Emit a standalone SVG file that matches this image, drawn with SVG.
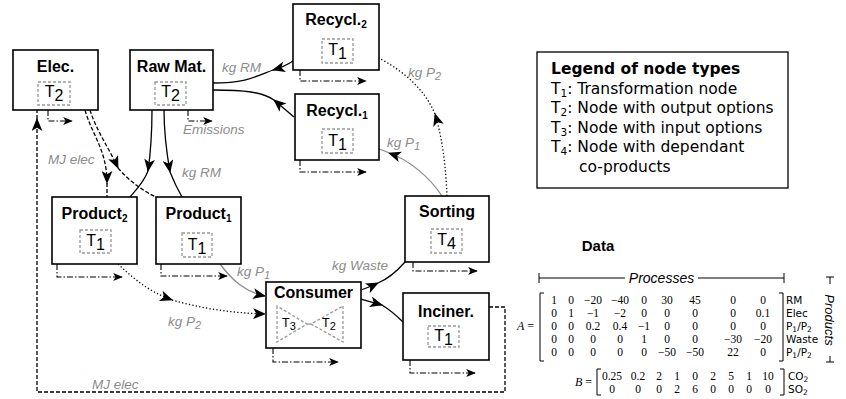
<svg xmlns="http://www.w3.org/2000/svg" width="846" height="399" viewBox="0 0 846 399">
<defs>
<style>
.box{fill:#fff;stroke:#000;stroke-width:1.6}
.title{font-family:"Liberation Sans",Arial,sans-serif;font-weight:bold;font-size:16px;text-anchor:middle;fill:#000}
.tbox{fill:none;stroke:#999;stroke-width:1.3;stroke-dasharray:3 2}
.tl{font-family:"Liberation Sans",Arial,sans-serif;font-size:16px;text-anchor:middle;fill:#000}
.tls{font-family:"Liberation Sans",Arial,sans-serif;font-size:12.5px;text-anchor:middle;fill:#000}
.lbl{font-family:"Liberation Sans",Arial,sans-serif;font-style:italic;font-size:13.5px;fill:#8c8c8c}
.e{fill:none;stroke:#000;stroke-width:1.3}
.g{fill:none;stroke:#8c8c8c;stroke-width:1.3}
.dash{stroke-dasharray:4 2}
.dot{stroke-dasharray:1.3 2.2}
.dd{fill:none;stroke:#000;stroke-width:1.1;stroke-dasharray:6 2 1.5 2}
.leg{font-family:"DejaVu Sans",Verdana,sans-serif;font-size:15.5px;fill:#000}
.mx{font-family:"Liberation Serif","DejaVu Serif",serif;font-size:11.5px;text-anchor:middle;fill:#000}
.ml{font-family:"DejaVu Sans",Verdana,sans-serif;font-size:10.5px;fill:#000}
.br{fill:none;stroke:#000;stroke-width:1}
</style>
<marker id="ah" viewBox="0 0 12 10" refX="11" refY="5" markerWidth="13" markerHeight="11" markerUnits="userSpaceOnUse" orient="auto"><path d="M0,0 L12,5 L0,10 L3,5 z" fill="#000"/></marker>
<marker id="ahs" viewBox="0 0 12 10" refX="11" refY="5" markerWidth="11" markerHeight="8" markerUnits="userSpaceOnUse" orient="auto"><path d="M0,0 L12,5 L0,10 L3,5 z" fill="#000"/></marker>
</defs>
<rect width="846" height="399" fill="#fff"/>

<g id="connectors">
<path class="e" d="M293,61 Q284,67 273,70" marker-end="url(#ah)"/>
<path class="e" d="M273,70 C255,77 245,83 213,83"/>
<path class="e" d="M294,117 L274,100" marker-end="url(#ah)"/>
<path class="e" d="M274,100 C262,92 245,90 213,90"/>
<path class="e" d="M152,110 C152,135 151,150 148,171" marker-end="url(#ah)"/>
<path class="e" d="M148,171 C144,182 136,190 130,197"/>
<path class="e" d="M164,110 C164,135 167,155 170,172" marker-end="url(#ah)"/>
<path class="e" d="M170,172 C174,182 178,190 182,197"/>
<path class="e dash" d="M85,110 C92,135 107,150 107,183" marker-end="url(#ah)"/>
<path class="e dash" d="M107,183 L107,197"/>
<path class="e dash" d="M90,110 C96,130 110,150 118,168" marker-end="url(#ah)"/>
<path class="e dash" d="M118,168 C130,182 145,192 156,197" stroke-width="1"/>
<path class="g" d="M220,264 C232,280 245,292 265,296" marker-end="url(#ah)"/>
<path class="e dot" d="M118,264 C135,280 150,292 172,300" marker-end="url(#ah)"/>
<path class="e dot" d="M172,300 C200,308 230,313 265,314" marker-end="url(#ah)"/>
<path class="e" d="M361,290 C367,288 372,286 378,283" marker-end="url(#ah)"/>
<path class="e" d="M378,283 C390,278 398,270 405,262"/>
<path class="e" d="M361,299 L382,305" marker-end="url(#ah)"/>
<path class="e" d="M382,305 C390,310 397,316 403,322"/>
<path class="g" d="M442,196 C430,178 410,160 389,153" marker-end="url(#ah)"/>
<path class="g" d="M389,153 C385,151 382,150 379,149"/>
<path class="e dot" d="M447,196 C446,170 443,140 435,114" marker-end="url(#ah)"/>
<path class="e dot" d="M435,114 C425,90 405,72 379,58"/>
<path class="e dash" d="M489,307 L505,307 L505,392 L37,392 L37,119" marker-end="url(#ah)"/>
<path class="e dash" d="M37,119 L37,110"/>
<path class="dd" d="M48,110 V121 H72" marker-end="url(#ahs)"/>
<path class="dd" d="M188,110 V121 H212" marker-end="url(#ahs)"/>
<path class="dd" d="M300,70 V81 H366" marker-end="url(#ahs)"/>
<path class="dd" d="M300,160 V172 H366" marker-end="url(#ahs)"/>
<path class="dd" d="M57,264 V277 H122" marker-end="url(#ahs)"/>
<path class="dd" d="M161,264 V276 H227" marker-end="url(#ahs)"/>
<path class="dd" d="M273,348 V362 H338" marker-end="url(#ahs)"/>
<path class="dd" d="M413,262 V271 H477" marker-end="url(#ahs)"/>
<path class="dd" d="M410,360 V373 H475" marker-end="url(#ahs)"/>
<text class="lbl" x="222" y="72">kg RM</text>
<text class="lbl" x="183" y="134">Emissions</text>
<text class="lbl" x="48" y="164">MJ elec</text>
<text class="lbl" x="182" y="177">kg RM</text>
<text class="lbl" x="408" y="77">kg P<tspan font-size="11" dy="3">2</tspan></text>
<text class="lbl" x="387" y="147">kg P<tspan font-size="11" dy="3">1</tspan></text>
<text class="lbl" x="237" y="276">kg P<tspan font-size="11" dy="3">1</tspan></text>
<text class="lbl" x="168" y="326">kg P<tspan font-size="11" dy="3">2</tspan></text>
<text class="lbl" x="332" y="270">kg Waste</text>
<text class="lbl" x="92" y="389">MJ elec</text>
</g>

<g id="elec">
<rect class="box" x="13" y="50" width="85" height="60"/>
<text class="title" x="55.5" y="72">Elec.</text>
<rect class="tbox" x="38" y="82" width="32" height="23"/>
<text class="tl" x="54" y="97">T<tspan dy="4">2</tspan></text>
</g>
<g id="rawmat">
<rect class="box" x="130" y="50" width="83" height="60"/>
<text class="title" x="171.5" y="72">Raw Mat.</text>
<rect class="tbox" x="155" y="82" width="31" height="23"/>
<text class="tl" x="170.5" y="97">T<tspan dy="4">2</tspan></text>
</g>
<g id="recycl2">
<rect class="box" x="293" y="4" width="86" height="66"/>
<text class="title" x="336" y="25">Recycl.<tspan font-size="10" dy="3">2</tspan></text>
<rect class="tbox" x="322" y="39" width="31" height="24"/>
<text class="tl" x="337.5" y="55">T<tspan dy="4">1</tspan></text>
</g>
<g id="recycl1">
<rect class="box" x="295" y="94" width="84" height="66"/>
<text class="title" x="337" y="116">Recycl.<tspan font-size="10" dy="3">1</tspan></text>
<rect class="tbox" x="322" y="129" width="31" height="24"/>
<text class="tl" x="337.5" y="146">T<tspan dy="4">1</tspan></text>
</g>
<g id="product2">
<rect class="box" x="52" y="197" width="85" height="67"/>
<text class="title" x="94.5" y="219">Product<tspan font-size="10" dy="3">2</tspan></text>
<rect class="tbox" x="80" y="230" width="31" height="23"/>
<text class="tl" x="95.5" y="246">T<tspan dy="4">1</tspan></text>
</g>
<g id="product1">
<rect class="box" x="156" y="197" width="85" height="67"/>
<text class="title" x="198.5" y="219">Product<tspan font-size="10" dy="3">1</tspan></text>
<rect class="tbox" x="182" y="233" width="30" height="24"/>
<text class="tl" x="197" y="250">T<tspan dy="4">1</tspan></text>
</g>
<g id="consumer">
<rect class="box" x="266" y="282" width="95" height="66"/>
<text class="title" x="313.5" y="298">Consumer</text>
<polygon class="tbox" points="277,306 277,342 307,324"/>
<polygon class="tbox" points="343,306 343,342 311,324"/>
<line x1="307" y1="324" x2="311" y2="324" stroke="#999" stroke-width="1.3"/>
<text class="tls" x="289" y="327">T<tspan font-size="11" dy="3">3</tspan></text>
<text class="tls" x="329" y="327">T<tspan font-size="11" dy="3">2</tspan></text>
</g>
<g id="sorting">
<rect class="box" x="405" y="196" width="84" height="66"/>
<text class="title" x="447" y="217">Sorting</text>
<rect class="tbox" x="431" y="229" width="31" height="24"/>
<text class="tl" x="446.5" y="245">T<tspan dy="4">4</tspan></text>
</g>
<g id="inciner">
<rect class="box" x="403" y="293" width="86" height="67"/>
<text class="title" x="446" y="317">Inciner.</text>
<rect class="tbox" x="428" y="326" width="31" height="21"/>
<text class="tl" x="443.5" y="341">T<tspan dy="4">1</tspan></text>
</g>

<g id="legend">
<rect x="537" y="52" width="251" height="136" fill="#fff" stroke="#000" stroke-width="1.3"/>
<text class="leg" x="551" y="74" font-weight="bold">Legend of node types</text>
<text class="leg" x="551" y="94">T<tspan font-size="10.5" dy="3">1</tspan><tspan dy="-3">: Transformation node</tspan></text>
<text class="leg" x="551" y="113">T<tspan font-size="10.5" dy="3">2</tspan><tspan dy="-3">: Node with output options</tspan></text>
<text class="leg" x="551" y="133">T<tspan font-size="10.5" dy="3">3</tspan><tspan dy="-3">: Node with input options</tspan></text>
<text class="leg" x="551" y="152">T<tspan font-size="10.5" dy="3">4</tspan><tspan dy="-3">: Node with dependant</tspan></text>
<text class="leg" x="579" y="172">co-products</text>
</g>

<g id="data">
<text x="598" y="251" font-family="Liberation Sans,Arial,sans-serif" font-weight="bold" font-size="15px" text-anchor="middle">Data</text>
<path class="br" d="M539,273 V283 M539,278 H625 M698,278 H784 M784,273 V283"/>
<text x="661.5" y="283" font-family="Liberation Sans,Arial,sans-serif" font-style="italic" font-size="14px" text-anchor="middle">Processes</text>
<text x="825" y="320" transform="rotate(90 825 320)" font-family="Liberation Sans,Arial,sans-serif" font-style="italic" font-size="13px" text-anchor="middle">Products</text>
<path class="br" d="M826,277 H834 M830,277 V284 M830,356 V362 M826,362 H834"/>
<text x="517" y="330" font-family="Liberation Serif,serif" font-size="12px"><tspan font-style="italic">A</tspan> =</text>
<path class="br" d="M544,293 H540 V361 H544 M779,293 H783 V361 H779"/>
<g class="mx">
<text y="304"><tspan x="554">1</tspan><tspan x="571">0</tspan><tspan x="593">−20</tspan><tspan x="620">−40</tspan><tspan x="644">0</tspan><tspan x="667">30</tspan><tspan x="695">45</tspan><tspan x="733">0</tspan><tspan x="763">0</tspan></text>
<text y="317"><tspan x="554">0</tspan><tspan x="571">1</tspan><tspan x="593">−1</tspan><tspan x="620">−2</tspan><tspan x="644">0</tspan><tspan x="667">0</tspan><tspan x="695">0</tspan><tspan x="733">0</tspan><tspan x="763">0.1</tspan></text>
<text y="330"><tspan x="554">0</tspan><tspan x="571">0</tspan><tspan x="593">0.2</tspan><tspan x="620">0.4</tspan><tspan x="644">−1</tspan><tspan x="667">0</tspan><tspan x="695">0</tspan><tspan x="733">0</tspan><tspan x="763">0</tspan></text>
<text y="343"><tspan x="554">0</tspan><tspan x="571">0</tspan><tspan x="593">0</tspan><tspan x="620">0</tspan><tspan x="644">1</tspan><tspan x="667">0</tspan><tspan x="695">0</tspan><tspan x="733">−30</tspan><tspan x="763">−20</tspan></text>
<text y="356"><tspan x="554">0</tspan><tspan x="571">0</tspan><tspan x="593">0</tspan><tspan x="620">0</tspan><tspan x="644">0</tspan><tspan x="667">−50</tspan><tspan x="695">−50</tspan><tspan x="733">22</tspan><tspan x="763">0</tspan></text>
</g>
<g class="ml">
<text x="786" y="304">RM</text>
<text x="786" y="317">Elec</text>
<text x="786" y="330">P<tspan font-size="7.5" dy="2">1</tspan><tspan dy="-2">/P</tspan><tspan font-size="7.5" dy="2">2</tspan></text>
<text x="786" y="343">Waste</text>
<text x="786" y="356">P<tspan font-size="7.5" dy="2">1</tspan><tspan dy="-2">/P</tspan><tspan font-size="7.5" dy="2">2</tspan></text>
</g>
<text x="575" y="386" font-family="Liberation Serif,serif" font-size="12px"><tspan font-style="italic">B</tspan> =</text>
<path class="br" d="M601,369 H597 V395 H601 M780,369 H784 V395 H780"/>
<g class="mx">
<text y="380"><tspan x="612">0.25</tspan><tspan x="638">0.2</tspan><tspan x="659">2</tspan><tspan x="677">1</tspan><tspan x="695">0</tspan><tspan x="713">2</tspan><tspan x="731">5</tspan><tspan x="749">1</tspan><tspan x="768">10</tspan></text>
<text y="393"><tspan x="612">0</tspan><tspan x="638">0</tspan><tspan x="659">0</tspan><tspan x="677">2</tspan><tspan x="695">6</tspan><tspan x="713">0</tspan><tspan x="731">0</tspan><tspan x="749">0</tspan><tspan x="768">0</tspan></text>
</g>
<g class="ml">
<text x="788" y="380">CO<tspan font-size="7.5" dy="2">2</tspan></text>
<text x="788" y="393">SO<tspan font-size="7.5" dy="2">2</tspan></text>
</g>
</g>
</svg>
